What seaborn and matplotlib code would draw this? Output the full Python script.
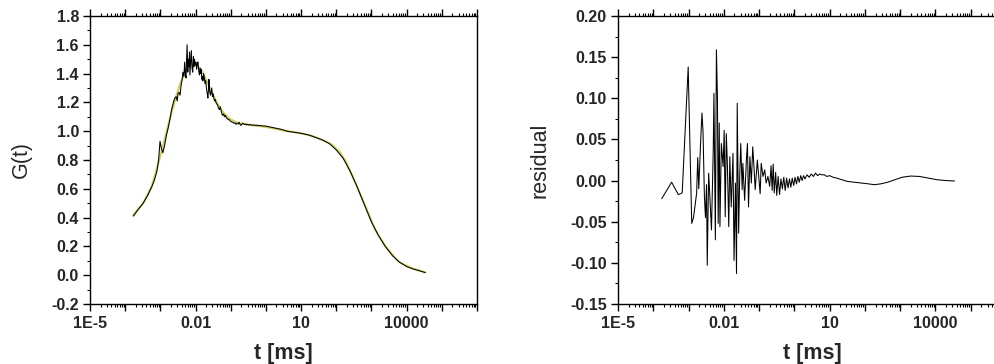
import numpy as np
import pandas as pd
import matplotlib
matplotlib.use("Agg")
import matplotlib.pyplot as plt
import matplotlib.ticker as mticker
import seaborn as sns

# ---------------- data ----------------
# measured correlation curve: log10(t/ms), G(t)
data_logt = [-3.77, -3.62, -3.49, -3.37, -3.25, -3.17, -3.10, -3.05, -3.01, -2.97,
             -2.93, -2.88, -2.83, -2.78, -2.73, -2.68, -2.63, -2.59, -2.55, -2.52,
             -2.50, -2.47, -2.44, -2.41, -2.38, -2.36, -2.33, -2.31, -2.29, -2.27,
             -2.26, -2.24, -2.22, -2.21, -2.19, -2.17, -2.16, -2.14, -2.12, -2.10,
             -2.08, -2.06, -2.04, -2.03, -2.01, -1.99, -1.97, -1.95, -1.93, -1.91,
             -1.89, -1.87, -1.85, -1.84, -1.82, -1.80, -1.79, -1.77, -1.75, -1.73,
             -1.71, -1.70, -1.68, -1.66, -1.65, -1.63, -1.62, -1.60, -1.58, -1.56,
             -1.54, -1.52, -1.50, -1.48, -1.46, -1.44, -1.42, -1.40, -1.37, -1.35,
             -1.32, -1.30, -1.27, -1.25, -1.23, -1.20, -1.18, -1.15, -1.12, -1.10,
             -1.07, -1.04, -1.01, -0.98, -0.94, -0.91, -0.88, -0.85, -0.82, -0.79,
             -0.76, -0.73, -0.71, -0.68, -0.65, -0.61, -0.58, -0.55, -0.52, -0.48,
             -0.44, -0.40, -0.35, -0.30, -0.25, -0.20, -0.15, -0.10, -0.05, 0.00,
             0.10, 0.20, 0.30, 0.40, 0.50, 0.60, 0.70, 0.80, 0.90, 1.00,
             1.20, 1.40, 1.60, 1.80, 2.00, 2.20, 2.40, 2.60, 2.80, 3.00,
             3.20, 3.40, 3.60, 3.80, 4.00, 4.20, 4.40, 4.53]
data_g = [0.41, 0.46, 0.50, 0.55, 0.61, 0.66, 0.72, 0.80, 0.93, 0.88,
          0.85, 0.90, 0.97, 1.02, 1.08, 1.15, 1.20, 1.23, 1.24, 1.21,
          1.26, 1.27, 1.25, 1.32, 1.36, 1.41, 1.38, 1.48, 1.40, 1.37,
          1.46, 1.60, 1.41, 1.50, 1.45, 1.55, 1.39, 1.47, 1.56, 1.44,
          1.41, 1.52, 1.45, 1.50, 1.46, 1.48, 1.43, 1.47, 1.48, 1.42,
          1.39, 1.44, 1.40, 1.43, 1.36, 1.38, 1.35, 1.40, 1.37, 1.33,
          1.35, 1.32, 1.28, 1.25, 1.23, 1.30, 1.36, 1.28, 1.25, 1.27,
          1.30, 1.24, 1.26, 1.23, 1.21, 1.22, 1.20, 1.19, 1.18, 1.16,
          1.15, 1.17, 1.14, 1.12, 1.11, 1.12, 1.10, 1.11, 1.09, 1.09,
          1.08, 1.08, 1.07, 1.065, 1.062, 1.055, 1.058, 1.048, 1.055, 1.050,
          1.062, 1.045, 1.040, 1.050, 1.055, 1.046, 1.050, 1.044, 1.048, 1.043,
          1.046, 1.041, 1.044, 1.040, 1.042, 1.038, 1.040, 1.036, 1.037, 1.035,
          1.030, 1.025, 1.020, 1.015, 1.008, 1.000, 0.996, 0.993, 0.989, 0.985,
          0.975, 0.958, 0.940, 0.915, 0.870, 0.810, 0.720, 0.610, 0.490, 0.370,
          0.275, 0.198, 0.135, 0.090, 0.060, 0.042, 0.028, 0.018]

# fitted curve: log10(t/ms), G(t)
fit_logt = [-3.77, -3.49, -3.25, -3.11, -3.00, -2.88, -2.74, -2.59, -2.45, -2.30,
            -2.17, -2.05, -1.95, -1.80, -1.65, -1.50, -1.35, -1.20, -1.05, -0.90,
            -0.75, -0.50, 0.00, 0.50, 1.00, 1.30, 1.60, 1.89, 2.10, 2.27,
            2.55, 2.83, 3.11, 3.40, 3.77, 4.15, 4.53]
fit_g = [0.418, 0.499, 0.615, 0.730, 0.830, 0.940, 1.078, 1.210, 1.320, 1.410,
         1.460, 1.470, 1.455, 1.410, 1.330, 1.250, 1.180, 1.125, 1.090, 1.068,
         1.055, 1.045, 1.030, 1.005, 0.985, 0.968, 0.940, 0.904, 0.855, 0.790,
         0.638, 0.476, 0.314, 0.198, 0.094, 0.048, 0.020]

# residuals: log10(t/ms), residual
res_logt = [-3.76, -3.48, -3.29, -3.18, -3.01, -3.00, -2.91, -2.86, -2.82, -2.77,
            -2.74, -2.71, -2.66, -2.62, -2.59, -2.55, -2.52, -2.49, -2.47, -2.43,
            -2.40, -2.35, -2.30, -2.28, -2.24, -2.21, -2.18, -2.16, -2.13, -2.11,
            -2.07, -2.02, -1.99, -1.96, -1.93, -1.90, -1.86, -1.83, -1.79, -1.74,
            -1.71, -1.67, -1.64, -1.62, -1.58, -1.55, -1.52, -1.48, -1.46, -1.41,
            -1.36, -1.33, -1.30, -1.26, -1.22, -1.18, -1.14, -1.11, -1.05, -1.01,
            -0.97, -0.94, -0.89, -0.84, -0.80, -0.75, -0.70, -0.66, -0.63, -0.60,
            -0.57, -0.53, -0.50, -0.46, -0.42, -0.38, -0.34, -0.30, -0.26, -0.22,
            -0.18, -0.14, -0.10, -0.06, -0.02, 0.02, 0.06, 0.10, 0.14, 0.18,
            0.22, 0.26, 0.30, 0.36, 0.42, 0.48, 0.54, 0.60, 0.66, 0.72,
            0.78, 0.85, 0.92, 1.00, 1.10, 1.20, 1.35, 1.50, 1.70, 1.90,
            2.10, 2.27, 2.45, 2.65, 2.85, 3.05, 3.30, 3.55, 3.80, 4.05,
            4.30, 4.54]
res_val = [-0.022, -0.002, -0.017, -0.015, 0.138, 0.118, -0.052, -0.045, -0.032, -0.015,
           0.028, -0.010, 0.045, 0.082, 0.060, -0.020, -0.045, -0.005, -0.103, 0.009,
           -0.016, -0.060, 0.037, 0.106, -0.072, 0.159, 0.098, -0.052, 0.070, -0.056,
           0.045, 0.017, 0.061, -0.044, 0.057, 0.021, -0.056, 0.029, -0.032, 0.033,
           -0.097, -0.003, -0.113, 0.094, -0.064, 0.005, 0.045, -0.011, 0.021, -0.024,
           0.025, 0.045, -0.032, 0.029, -0.003, 0.041, 0.013, -0.011, 0.025, 0.005,
           -0.016, 0.021, 0.005, 0.013, -0.003, 0.005, -0.007, 0.018, -0.012, 0.020,
           -0.015, 0.010, -0.018, 0.005, -0.017, 0.002, -0.010, 0.004, -0.012, 0.003,
           -0.009, 0.002, -0.008, 0.003, -0.006, 0.004, -0.004, 0.005, -0.002, 0.006,
           0.000, 0.006, 0.002, 0.007, 0.004, 0.008, 0.005, 0.009, 0.006, 0.008,
           0.007, 0.007, 0.005, 0.006, 0.004, 0.003, 0.001, -0.001, -0.002, -0.003,
           -0.004, -0.005, -0.004, -0.002, 0.001, 0.004, 0.0055, 0.005, 0.003, 0.001,
           0.000, -0.0005]

x_tick_exps = [-5, -4, -3, -2, -1, 0, 1, 2, 3, 4, 5, 6]
x_tick_labels = ["1E-5", "", "", "0.01", "", "", "10", "", "", "10000", "", ""]
g_ticks = [-0.2, 0.0, 0.2, 0.4, 0.6, 0.8, 1.0, 1.2, 1.4, 1.6, 1.8]
r_ticks = [-0.15, -0.10, -0.05, 0.00, 0.05, 0.10, 0.15, 0.20]

# ---------------- styling ----------------
sns.set_theme(style="ticks")
plt.rcParams["font.family"] = ["Liberation Sans", "DejaVu Sans"]

df_data = pd.DataFrame({"t": 10.0 ** np.array(data_logt), "G": data_g})
df_fit = pd.DataFrame({"t": 10.0 ** np.array(fit_logt), "G": fit_g})
df_res = pd.DataFrame({"t": 10.0 ** np.array(res_logt), "r": res_val})

fig = plt.figure(figsize=(9.95, 3.64), dpi=100)
W, H = 995.0, 364.0
ax1 = fig.add_axes([90 / W, 1 - 304 / H, 387 / W, 288 / H])
ax2 = fig.add_axes([618 / W, 1 - 304 / H, 388 / W, 288 / H])

for ax in (ax1, ax2):
    ax.set_xscale("log")

sns.lineplot(data=df_fit, x="t", y="G", ax=ax1, color="#cfcf5a", lw=1.5,
             sort=False, estimator=None)
sns.lineplot(data=df_data, x="t", y="G", ax=ax1, color="black", lw=0.75,
             sort=False, estimator=None)
sns.lineplot(data=df_res, x="t", y="r", ax=ax2, color="black", lw=0.75,
             sort=False, estimator=None)

ax1.set_ylim(-0.2, 1.8)
ax2.set_ylim(-0.15, 0.20)
ax1.set_yticks(g_ticks)
ax1.set_yticklabels([f"{v:.1f}" for v in g_ticks])
ax1.yaxis.set_minor_locator(mticker.MultipleLocator(0.1))
ax2.set_yticks(r_ticks)
ax2.set_yticklabels([f"{v:.2f}" for v in r_ticks])
ax2.yaxis.set_minor_locator(mticker.MultipleLocator(0.025))

for ax in (ax1, ax2):
    ax.set_xlim(1e-5, 1e6)
    ax.set_xticks([10.0 ** e for e in x_tick_exps])
    ax.set_xticklabels(x_tick_labels)
    ax.xaxis.set_minor_locator(mticker.LogLocator(base=10, subs=np.arange(2, 10), numticks=50))
    ax.xaxis.set_minor_formatter(mticker.NullFormatter())
    ax.tick_params(axis="both", which="major", direction="out", length=5, width=1,
                   labelsize=11.5, color="black")
    ax.tick_params(axis="both", which="minor", direction="out", length=2.5, width=0.8,
                   color="black")
    ax.tick_params(axis="x", which="both", top=True, bottom=True, pad=4)
    ax.tick_params(axis="y", which="both", left=True, right=False, pad=3)
    for lab in ax.get_xticklabels() + ax.get_yticklabels():
        lab.set_fontweight("bold")
    for sp in ax.spines.values():
        sp.set_visible(True)
        sp.set_color("black")
        sp.set_linewidth(1.0)
    ax.set_xlabel("t [ms]", fontsize=15.5, fontweight="bold")
    ax.xaxis.set_label_coords(0.5, -0.135)

ax1.set_ylabel("G(t)", fontsize=15.5)
ax1.yaxis.set_label_coords(-0.15, 0.5)
ax2.set_ylabel("residual", fontsize=15.5)
ax2.yaxis.set_label_coords(-0.175, 0.5)

fig.savefig("out.png", dpi=100)
